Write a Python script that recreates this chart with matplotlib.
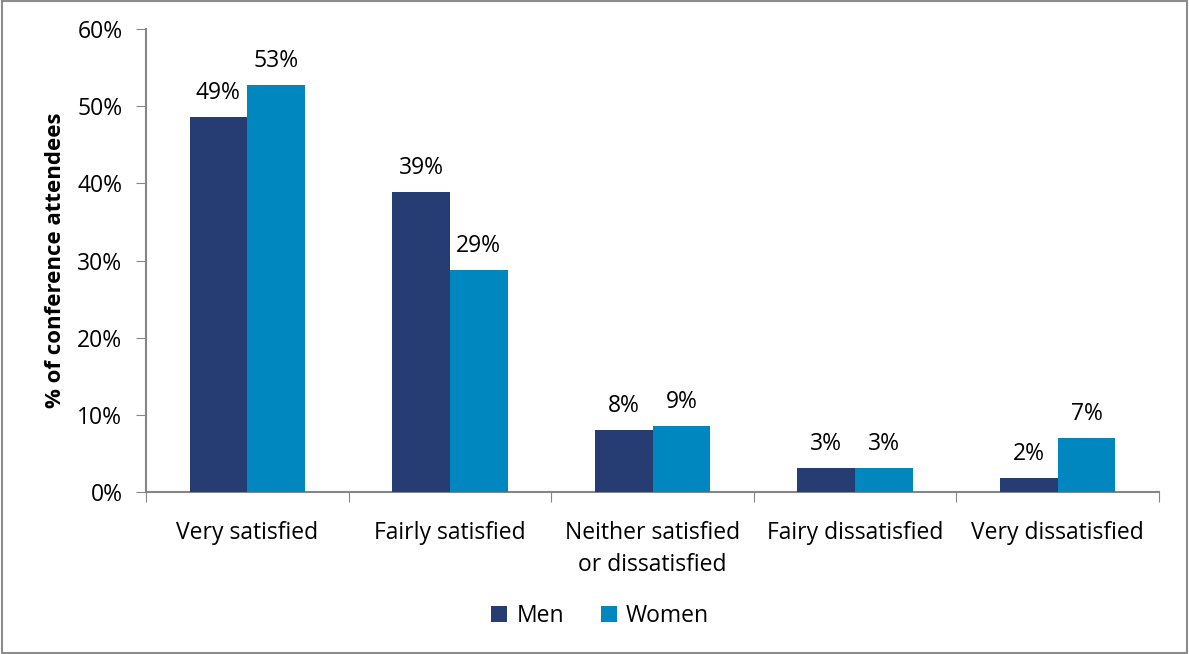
import matplotlib
matplotlib.use("Agg")
import matplotlib.pyplot as plt
import numpy as np
from matplotlib.patches import Rectangle

categories = ["Very satisfied", "Fairly satisfied", "Neither satisfied\nor dissatisfied",
              "Fairy dissatisfied", "Very dissatisfied"]
men = [48.6, 38.9, 8.0, 3.1, 1.8]
women = [52.8, 28.8, 8.6, 3.1, 7.0]
men_labels = ["49%", "39%", "8%", "3%", "2%"]
women_labels = ["53%", "29%", "9%", "3%", "7%"]
yticks = [0, 10, 20, 30, 40, 50, 60]

plt.rcParams['font.family'] = ['Open Sans', 'DejaVu Sans']
MEN_C = "#263D74"
WOMEN_C = "#0087C0"
GRAY = "#868686"
FS = 16.5

fig = plt.figure(figsize=(11.89, 6.54), dpi=100)
ax = fig.add_axes([146/1189, 1 - 492/654, (1159-146)/1189, (492-29)/654])

x = np.arange(len(categories))
w = 0.285
ax.bar(x - w/2, men, w, color=MEN_C, label="Men", zorder=3)
ax.bar(x + w/2, women, w, color=WOMEN_C, label="Women", zorder=3)

for i in range(len(categories)):
    ax.annotate(men_labels[i], (x[i] - w/2, men[i]), xytext=(0, 13), textcoords='offset points',
                ha='center', va='baseline', fontsize=FS, color='black')
    ax.annotate(women_labels[i], (x[i] + w/2, women[i]), xytext=(0, 13), textcoords='offset points',
                ha='center', va='baseline', fontsize=FS, color='black')

ax.set_xlim(-0.5, len(categories) - 0.5)
ax.set_ylim(0, 60)
ax.set_yticks(yticks)
ax.set_yticklabels([f"{v}%" for v in yticks], fontsize=FS)
ax.set_xticks(np.arange(len(categories) + 1) - 0.5)
ax.set_xticklabels([])
ax.set_xticks(x, minor=True)
ax.set_xticklabels(categories, minor=True, fontsize=FS, linespacing=1.45)
ax.tick_params(axis='x', which='minor', length=0, pad=21)
ax.tick_params(axis='x', which='major', length=7, color=GRAY, direction='out')
ax.tick_params(axis='y', length=7, color=GRAY, direction='out', pad=10)

for s in ['top', 'right']:
    ax.spines[s].set_visible(False)
for s in ['left', 'bottom']:
    ax.spines[s].set_color(GRAY)
    ax.spines[s].set_linewidth(1.5)

ax.set_ylabel("% of conference attendees", fontsize=16, fontweight='bold', labelpad=8)

leg = fig.legend(loc='center', bbox_to_anchor=(600/1189, 1 - 616/654), ncol=2, frameon=False,
                 fontsize=FS, handlelength=0.7, handleheight=0.7, columnspacing=1.6, handletextpad=0.4)

fig.patches.append(Rectangle((0.002, 0.002), 0.996, 0.996, transform=fig.transFigure,
                             fill=False, edgecolor="#8c8c8c", linewidth=1.5))

fig.savefig("out.png", dpi=100)
